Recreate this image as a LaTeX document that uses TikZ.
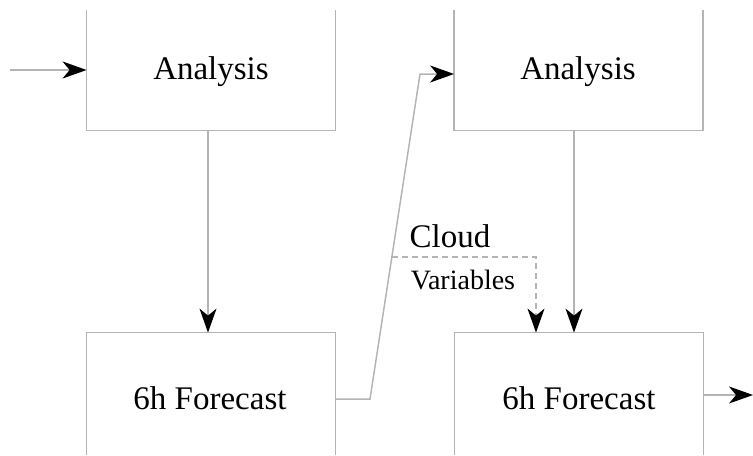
\documentclass[tikz,border=0pt]{standalone}
\usepackage{fontspec}
\setmainfont{Liberation Serif}
\usetikzlibrary{arrows.meta,calc}
\definecolor{edgegrey}{HTML}{B4B4B4}
\begin{document}
\begin{tikzpicture}[x=0.5pt,y=-0.5pt,
  frame/.style={draw=none,minimum width=124pt,inner sep=0pt},
  label/.style={font=\fontsize{16.5}{20}\selectfont},
  smalllabel/.style={font=\fontsize{14}{17}\selectfont},
  side/.style={draw=edgegrey,line width=0.75pt},
  flow/.style={draw=edgegrey,line width=0.75pt,
    -{Stealth[length=12pt,width=8.5pt,inset=3.5pt,color=black]}},
  dashflow/.style={flow,dash pattern=on 3pt off 2pt}]
\useasboundingbox (0,0) rectangle (753,455);

% boxes: top ones open at the top, bottom ones open at the bottom
\node[frame,minimum height=60pt] (a1) at (211,70) {};
\node[frame,minimum height=60pt] (a2) at (578.5,70) {};
\node[frame,minimum height=61pt] (f1) at (211,394) {};
\node[frame,minimum height=61pt] (f2) at (579,394) {};

\draw[side] (a1.north west) -- (a1.south west) -- (a1.south east) -- (a1.north east);
\draw[side] (a2.north west) -- (a2.south west) -- (a2.south east) -- (a2.north east);
\draw[side] (f1.south west) -- (f1.north west) -- (f1.north east) -- (f1.south east);
\draw[side] (f2.south west) -- (f2.north west) -- (f2.north east) -- (f2.south east);

\node[label] (ta1) at (211,72) {Analysis};
\node[label] (ta2) at (578,72) {Analysis};
\node[label] (tf1) at (210,398) {6h Forecast};
\node[label] (tf2) at (579,398) {6h Forecast};

% cycle connectors
\coordinate (in) at (10,70);
\coordinate (out) at (753,395);
\draw[flow] (in) -- (a1.west);
\draw[flow] ($(a1.south)+(-3,0)$) -- ($(f1.north)+(-3,0)$);
\draw[flow] ($(a2.south)+(-4.5,0)$) -- ($(f2.north)+(-5,0)$);
\draw[flow] (f2.east |- out) -- (out);

% forecast feeds the next analysis
\coordinate (k1) at (370,399);
\coordinate (k2) at (420,74);
\draw[flow] (f1.east |- k1) -- (k1) -- (k2) -- ($(a2.west)+(0,4)$);

% cloud variables branch
\path (k1) -- (k2) coordinate[pos=0.437] (tap);
\coordinate (cv) at ($(f2.north)+(-43,0)$);
\draw[dashflow] (tap) -| (cv);
\node[label] (cloud) at (450,236) {Cloud};
\node[smalllabel] (vars) at (463,280) {Variables};
\end{tikzpicture}
\end{document}
